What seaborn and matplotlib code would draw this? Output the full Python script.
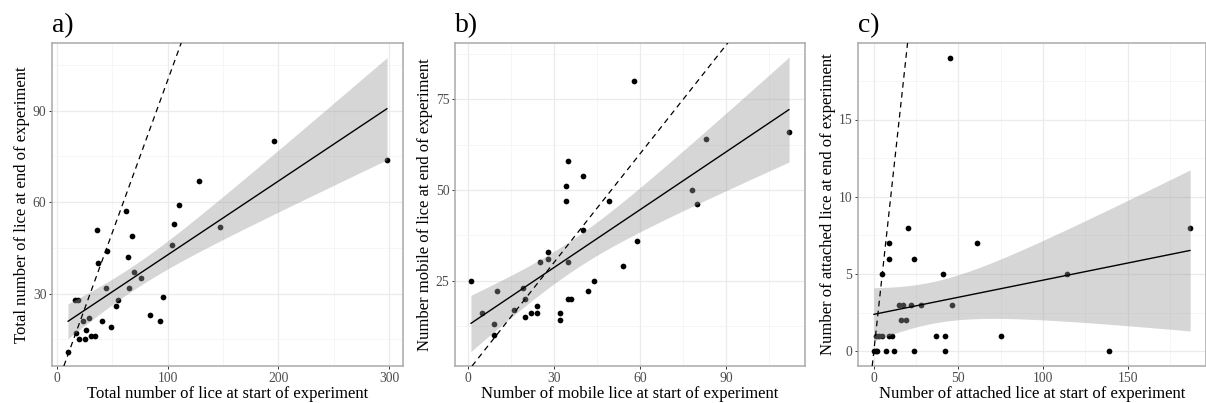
import numpy as np
import pandas as pd
import matplotlib
matplotlib.use("Agg")
import matplotlib.pyplot as plt
from matplotlib.ticker import FixedLocator
import seaborn as sns

# Lice counts per fish: start vs end of experiment
total_start = [10, 16, 19, 17, 20, 25, 24, 26, 29, 31, 34, 36, 37, 41, 45, 44, 49, 53,
               55, 62, 64, 65, 68, 70, 76, 84, 93, 96, 104, 106, 110, 128, 147, 196, 298]
total_end = [11, 28, 28, 17, 15, 15, 21, 18, 22, 16, 16, 51, 40, 21, 44, 32, 19, 26,
             28, 57, 42, 32, 49, 37, 35, 23, 21, 29, 46, 53, 59, 67, 52, 80, 74]

mobile_start = [1, 5, 9, 9, 10, 16, 19, 20, 20, 22, 24, 24, 25, 28, 28, 32, 32, 34,
                34, 35, 35, 35, 36, 40, 40, 42, 44, 49, 54, 58, 59, 78, 80, 83, 112]
mobile_end = [25, 16, 13, 10, 22, 17, 23, 20, 15, 16, 18, 16, 30, 33, 31, 16, 14, 51,
              47, 58, 30, 20, 20, 54, 39, 22, 25, 47, 29, 80, 36, 50, 46, 64, 66]

attached_start = [0, 1, 2, 7, 12, 24, 42, 139, 1, 3, 5, 9, 11, 37, 42, 75, 16, 19,
                  15, 17, 22, 28, 46, 5, 41, 114, 9, 24, 9, 61, 20, 187, 45]
attached_end = [0, 0, 0, 0, 0, 0, 0, 0, 1, 1, 1, 1, 1, 1, 1, 1, 2, 2,
                3, 3, 3, 3, 3, 5, 5, 5, 6, 6, 7, 7, 8, 8, 19]

panel_tags = ["a)", "b)", "c)"]
x_labels = ["Total number of lice at start of experiment",
            "Number of mobile lice at start of experiment",
            "Number of attached lice at start of experiment"]
y_labels = ["Total number of lice at end of experiment",
            "Number mobile of lice at end of experiment",
            "Number of attached lice at end of experiment"]
x_major = [[0, 100, 200, 300], [0, 30, 60, 90], [0, 50, 100, 150]]
y_major = [[30, 60, 90], [25, 50, 75], [0, 5, 10, 15]]
x_minor = [[50, 150, 250], [15, 45, 75, 105], [25, 75, 125, 175]]
y_minor = [[15, 45, 75, 105], [12.5, 37.5, 62.5, 87.5], [2.5, 7.5, 12.5, 17.5]]
x_lims = [(-4.4, 312.4), (-4.55, 117.55), (-9.35, 196.35)]
y_lims = [(6.3, 112.2), (1.4, 90.6), (-0.95, 19.95)]

sns.set_theme(style="white")
plt.rcParams["font.family"] = ["Liberation Serif", "DejaVu Serif"]


def t_quantile(df, p=0.975):
    # Cornish-Fisher expansion of Student's t quantile
    z = 1.959963985
    return (z + (z**3 + z) / (4 * df)
            + (5 * z**5 + 16 * z**3 + 3 * z) / (96 * df**2)
            + (3 * z**7 + 19 * z**5 + 17 * z**3 - 15 * z) / (384 * df**3))


def lm_band(x, y, grid):
    x = np.asarray(x, float)
    y = np.asarray(y, float)
    n = len(x)
    xm = x.mean()
    sxx = ((x - xm) ** 2).sum()
    b1 = ((x - xm) * (y - y.mean())).sum() / sxx
    b0 = y.mean() - b1 * xm
    resid = y - (b0 + b1 * x)
    s2 = (resid ** 2).sum() / (n - 2)
    se = np.sqrt(s2 * (1.0 / n + (grid - xm) ** 2 / sxx))
    fit = b0 + b1 * grid
    t = t_quantile(n - 2)
    return fit - t * se, fit + t * se


fig = plt.figure(figsize=(12.06, 4.03), dpi=100)
W, H = 1206, 403
boxes = [(52, 403), (455, 805), (858, 1206)]
top_px, bot_px = 43, 366

series = [(total_start, total_end), (mobile_start, mobile_end),
          (attached_start, attached_end)]

for i, ((xs, ys), (l, r)) in enumerate(zip(series, boxes)):
    ax = fig.add_axes([l / W, (H - bot_px) / H, (r - l) / W, (bot_px - top_px) / H])
    df = pd.DataFrame({"start": xs, "end": ys})

    ax.set_axisbelow(True)
    sns.scatterplot(data=df, x="start", y="end", color="black", s=17,
                    linewidth=0, ax=ax, zorder=2)

    grid = np.linspace(min(xs), max(xs), 200)
    lo, hi = lm_band(xs, ys, grid)
    ax.fill_between(grid, lo, hi, color="#999999", alpha=0.4, lw=0, zorder=3)

    sns.regplot(data=df, x="start", y="end", scatter=False, ci=None,
                truncate=True, ax=ax,
                line_kws=dict(color="black", lw=1.0, zorder=4))

    ax.axline((0, 0), slope=1, color="black", lw=0.9, ls=(0, (4.5, 3.5)), zorder=5)

    ax.set_xlim(*x_lims[i])
    ax.set_ylim(*y_lims[i])
    ax.xaxis.set_major_locator(FixedLocator(x_major[i]))
    ax.yaxis.set_major_locator(FixedLocator(y_major[i]))
    ax.xaxis.set_minor_locator(FixedLocator(x_minor[i]))
    ax.yaxis.set_minor_locator(FixedLocator(y_minor[i]))
    ax.grid(which="major", color="#ebebeb", lw=0.9)
    ax.grid(which="minor", color="#f3f3f3", lw=0.5)
    ax.tick_params(which="major", length=2.5, width=0.7, color="#333333",
                   labelsize=9.8, labelcolor="#4d4d4d", pad=1.5,
                   bottom=True, left=True)
    ax.tick_params(which="minor", length=0)
    for sp in ax.spines.values():
        sp.set_color("#aaaaaa")
        sp.set_linewidth(1.1)

    ax.set_xlabel(x_labels[i], fontsize=12, color="black", labelpad=1)
    ax.set_ylabel(y_labels[i], fontsize=12, color="black", labelpad=2)
    ax.set_title(panel_tags[i], loc="left", fontsize=20, pad=8, color="black")

fig.savefig("out.png", dpi=100)
